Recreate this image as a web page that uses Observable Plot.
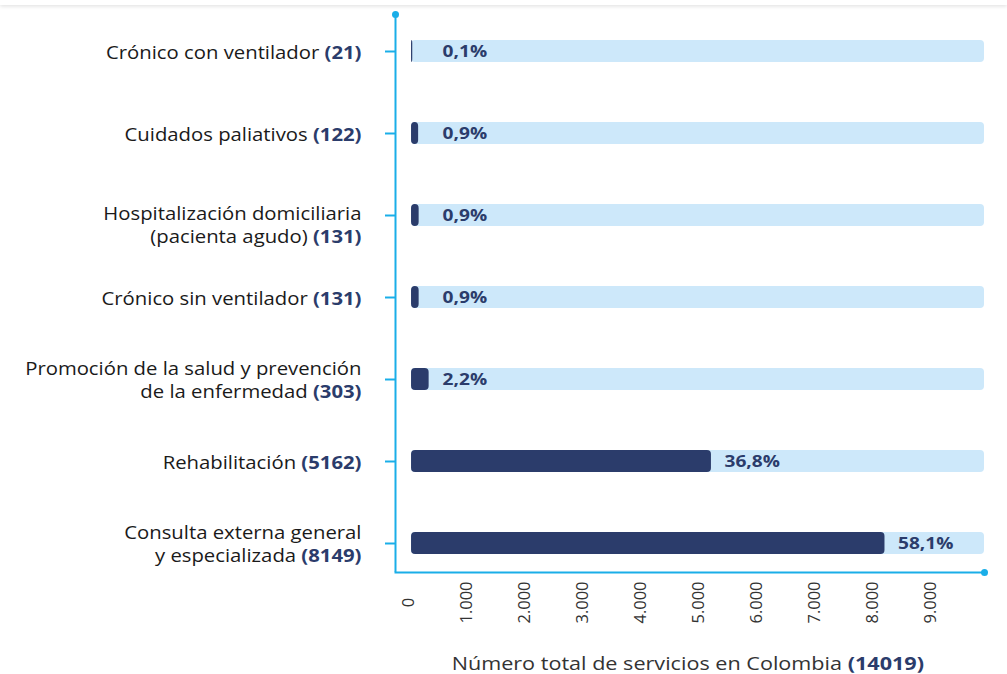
<!DOCTYPE html>
<html>
<head>
<meta charset="utf-8">
<script src="https://cdn.jsdelivr.net/npm/d3@7"></script>
<script src="https://cdn.jsdelivr.net/npm/@observablehq/plot@0.6"></script>
<style>
  html, body { margin: 0; padding: 0; background: #fff; }
  body { width: 1007px; height: 674px; position: relative; overflow: hidden; font-family: "Open Sans", sans-serif; }
  #shadow { position: absolute; left: 0; top: 0; width: 1007px; height: 5px; background: #fff; box-shadow: 0 1px 4px rgba(0,0,0,0.14); }
  #chart svg { display: block; }
  #cap { padding-left: 369px; text-align: center; font-size: 18px; color: #333; line-height: 24px; margin-top: 11px; white-space: nowrap; }
  #cap span { display: inline-block; transform: scaleX(1.2); transform-origin: 50% 50%; }
  #cap b { color: #2b3c6b; }
</style>
</head>
<body>
<div id="shadow"></div>
<div id="chart"></div>
<div id="cap"></div>
<script>
// ---- data ----
const categories = [
  "Crónico con ventilador",
  "Cuidados paliativos",
  "Hospitalización domiciliaria (pacienta agudo)",
  "Crónico sin ventilador",
  "Promoción de la salud y prevención de la enfermedad",
  "Rehabilitación",
  "Consulta externa general y especializada"
];
const labelLines = [
  "Crónico con ventilador",
  "Cuidados paliativos",
  "Hospitalización domiciliaria\n(pacienta agudo)",
  "Crónico sin ventilador",
  "Promoción de la salud y prevención\nde la enfermedad",
  "Rehabilitación",
  "Consulta externa general\ny especializada"
];
const counts = [21, 122, 131, 131, 303, 5162, 8149];
const percents = [0.1, 0.9, 0.9, 0.9, 2.2, 36.8, 58.1];
const total = 14019;
const tickValues = [0, 1000, 2000, 3000, 4000, 5000, 6000, 7000, 8000, 9000];
const tickLabels = ["0", "1.000", "2.000", "3.000", "4.000", "5.000", "6.000", "7.000", "8.000", "9.000"];
const axisTitle = "Número total de servicios en Colombia";

// ---- styles ----
const navy = "#2b3c6b";
const light = "#cde8fa";
const cyan = "#1aaee8";
const xMin = -276, xMax = 9862;
const labelMin = 310;
const stretch = 1.16;

const rows = categories.map((c, i) => ({
  cat: c,
  label: labelLines[i] + " (" + counts[i] + ")",
  count: counts[i],
  pct: percents[i],
  i
}));
const fmtPct = v => v.toFixed(1).replace(".", ",") + "%";

const chart = Plot.plot({
  width: 1007,
  height: 640,
  marginLeft: 395,
  marginRight: 23,
  marginTop: 14,
  marginBottom: 68,
  style: {fontFamily: "'Open Sans', sans-serif", background: "transparent"},
  x: {domain: [xMin, xMax], axis: null},
  y: {domain: categories, paddingInner: 0.733, paddingOuter: 0.248, align: 0.585, axis: null},
  marks: [
    Plot.barX(rows, {y: "cat", x1: 0, x2: xMax, fill: light, rx: 4}),
    Plot.barX(rows, {y: "cat", x1: 0, x2: "count", fill: navy, rx: 4}),
    Plot.text(rows, {y: "cat", x: d => Math.max(d.count, labelMin), dx: 13, text: d => fmtPct(d.pct),
      textAnchor: "start", fill: navy, fontWeight: 700, fontSize: 16.5}),
    Plot.ruleX([xMin], {stroke: cyan, strokeWidth: 2}),
    Plot.frame({anchor: "bottom", stroke: cyan, strokeWidth: 2}),
    Plot.ruleY(categories, {y: d => d, x1: xMin, x2: xMin, insetLeft: -10, stroke: cyan, strokeWidth: 2}),
    Plot.dot([xMin], {x: d => d, frameAnchor: "top", r: 3.5, fill: cyan}),
    Plot.dot([xMax], {x: d => d, frameAnchor: "bottom", r: 3.5, fill: cyan}),
    Plot.text(tickValues, {x: d => d, text: (d, i) => tickLabels[i], frameAnchor: "bottom",
      rotate: -90, textAnchor: "middle", dy: 30, dx: 2, fontSize: 16.5, fill: "#333"}),
    Plot.text(rows.filter(d => d.i !== 2), {y: "cat", text: "label", frameAnchor: "left", textAnchor: "end",
      dx: -34, lineAnchor: "middle", fontSize: 17.5, lineHeight: 1.3, fill: "#1a1a1a"}),
    Plot.text(rows.filter(d => d.i === 2), {y: "cat", text: "label", frameAnchor: "left", textAnchor: "end",
      dx: -34, lineAnchor: "top", dy: -11.5, fontSize: 17.5, lineHeight: 1.3, fill: "#1a1a1a"})
  ]
});

// bold the counts in parentheses
const ns = "http://www.w3.org/2000/svg";
chart.querySelectorAll("text, tspan").forEach(el => {
  if (el.children.length) return;
  const m = (el.textContent || "").match(/^(.*?)(\(\d+\))$/);
  if (!m) return;
  el.textContent = "";
  const a = document.createElementNS(ns, "tspan");
  a.textContent = m[1];
  const b = document.createElementNS(ns, "tspan");
  b.textContent = m[2];
  b.setAttribute("font-weight", "700");
  b.setAttribute("fill", navy);
  el.appendChild(a);
  el.appendChild(b);
});

// horizontal stretch of the (non-rotated) texts, as in the reference picture
chart.querySelectorAll("text").forEach(el => {
  const t = el.getAttribute("transform") || "";
  if (t.includes("rotate")) return;
  if (t.includes("translate")) {
    el.setAttribute("transform", t.replace(/(translate\([^)]*\))/, `$1 scale(${stretch},1)`));
  } else {
    const x = +(el.getAttribute("x") || 0), y = +(el.getAttribute("y") || 0);
    el.removeAttribute("x"); el.removeAttribute("y");
    el.setAttribute("transform", `translate(${x},${y}) scale(${stretch},1)`);
  }
});

document.getElementById("chart").appendChild(chart);
const cap = document.getElementById("cap");
const span = document.createElement("span");
span.appendChild(document.createTextNode(axisTitle + " "));
const bold = document.createElement("b");
bold.textContent = "(" + total + ")";
span.appendChild(bold);
cap.appendChild(span);
</script>
</body>
</html>
